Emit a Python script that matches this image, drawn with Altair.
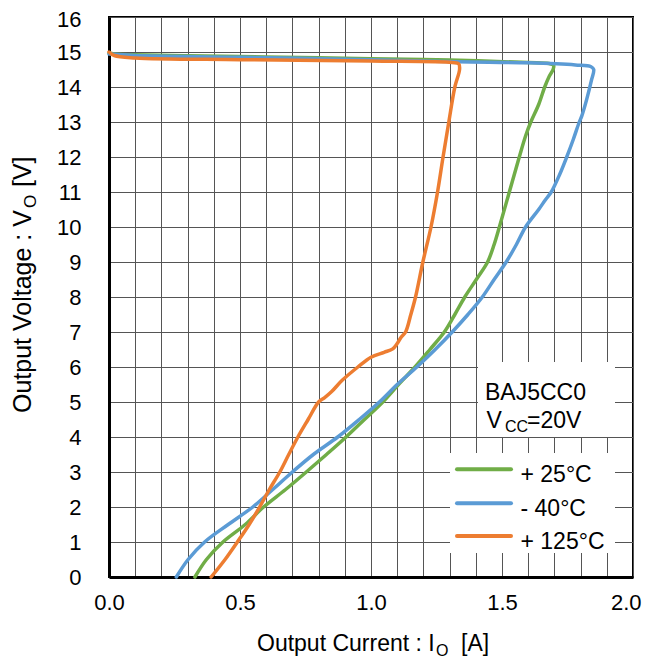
import altair as alt
import pandas as pd

# ---------------- data ----------------
series_names = ["+ 25°C", "- 40°C", "+ 125°C"]
series_colors = ["#70AD47", "#5B9BD5", "#ED7D31"]

green_I = [0.328, 0.372, 0.435, 0.520, 0.590, 0.674, 0.753, 0.830, 0.905, 0.975, 1.045,
           1.105, 1.168, 1.225, 1.280, 1.320, 1.358, 1.402, 1.445, 1.470, 1.490, 1.528,
           1.566, 1.590, 1.610, 1.640, 1.663, 1.680, 1.695, 1.697, 1.680, 1.600, 1.300,
           1.000, 0.600, 0.300, 0.100, 0.020, 0.000]
green_V = [0.0, 0.5, 1.0, 1.5, 2.0, 2.5, 3.0, 3.5, 4.0, 4.5, 5.0,
           5.5, 6.0, 6.5, 7.0, 7.5, 8.0, 8.5, 9.0, 9.5, 10.0, 11.0,
           12.0, 12.6, 13.0, 13.5, 14.0, 14.3, 14.5, 14.62, 14.67, 14.70, 14.77,
           14.81, 14.86, 14.89, 14.92, 14.94, 14.97]

blue_I = [0.257, 0.302, 0.365, 0.455, 0.549, 0.625, 0.700, 0.780, 0.873, 0.955, 1.032,
          1.100, 1.175, 1.245, 1.310, 1.370, 1.425, 1.470, 1.516, 1.555, 1.590, 1.640,
          1.666, 1.688, 1.720, 1.747, 1.772, 1.795, 1.804, 1.823, 1.842, 1.850, 1.840,
          1.780, 1.600, 1.330, 1.000, 0.500, 0.100, 0.000]
blue_V = [0.0, 0.5, 1.0, 1.5, 2.0, 2.5, 3.0, 3.5, 4.0, 4.5, 5.0,
          5.5, 6.0, 6.5, 7.0, 7.5, 8.0, 8.5, 9.0, 9.5, 10.0, 10.5,
          10.78, 11.0, 11.5, 12.0, 12.5, 13.0, 13.16, 13.64, 14.21, 14.5, 14.58,
          14.63, 14.69, 14.72, 14.78, 14.85, 14.90, 14.94]

orange_I = [0.390, 0.443, 0.490, 0.535, 0.575, 0.612, 0.652, 0.686, 0.721, 0.760, 0.800,
            0.822, 0.850, 0.890, 0.950, 1.000, 1.050, 1.083, 1.100, 1.115, 1.132, 1.152,
            1.170, 1.198, 1.229, 1.254, 1.275, 1.297, 1.320, 1.338, 1.335, 1.310, 1.000,
            0.500, 0.100, 0.020, 0.000]
orange_V = [0.0, 0.5, 1.0, 1.5, 2.0, 2.5, 3.0, 3.5, 4.0, 4.5, 5.0,
            5.12, 5.30, 5.62, 6.0, 6.28, 6.42, 6.52, 6.67, 6.85, 7.0, 7.5,
            8.0, 9.0, 10.0, 11.0, 12.0, 13.0, 14.0, 14.5, 14.66, 14.70, 14.74,
            14.78, 14.83, 14.90, 15.0]

x_ticks = [round(i * 0.1, 1) for i in range(21)]
y_ticks = list(range(17))

device_lines = ["BAJ5CC0"]
vcc_parts = ["V", "CC", "=20V"]
x_title_parts = ["Output Current : I", "O", "[A]"]
y_title_parts = ["Output Voltage : V", "O", "[V]"]

FONT = "Liberation Sans"

# ---------------- scales / axes ----------------
x_scale = alt.Scale(domain=[0, 2], nice=False, zero=False)
y_scale = alt.Scale(domain=[0, 16], nice=False, zero=False)

x_axis = alt.Axis(
    values=x_ticks, title=None, grid=True, ticks=False, tickSize=0,
    labelExpr="(round(datum.value*10) % 5 == 0) ? format(datum.value, '.1f') : ''",
    labelOverlap=False, labelPadding=15, labelFontSize=22, labelFont=FONT,
    labelColor="black", labelFlush=False,
    labelAlign={"condition": {"test": "datum.value >= 1.99", "value": "right"}, "value": "center"},
    labelOffset={"condition": {"test": "datum.value >= 1.99", "value": 8}, "value": 0},
    domainColor="black", domainWidth=3, gridColor="#555555", gridWidth=1, gridOpacity=1,
)
y_axis = alt.Axis(
    values=y_ticks, title=None, grid=True, ticks=False, tickSize=0, format="d",
    labelOverlap=False, labelPadding=28, labelFontSize=22, labelFont=FONT,
    labelColor="black", labelFlush=False,
    labelOffset={"condition": {"test": "datum.value >= 16", "value": 2}, "value": 0},
    domainColor="black", domainWidth=3, gridColor="#555555", gridWidth=1, gridOpacity=1,
)


def curve(name, I, V, color):
    df = pd.DataFrame({"series": name, "I": I, "V": V, "k": list(range(len(I)))})
    return alt.Chart(df).mark_line(
        color=color, strokeWidth=3.5, interpolate="catmull-rom",
        strokeCap="round", strokeJoin="round",
    ).encode(
        x=alt.X("I:Q", scale=x_scale, axis=x_axis),
        y=alt.Y("V:Q", scale=y_scale, axis=y_axis),
        order="k:Q",
    )


one = pd.DataFrame({"a": [0]})


def box(x1, x2, y1, y2):
    return alt.Chart(one).mark_rect(color="white").encode(
        x=alt.value(x1), x2=alt.value(x2), y=alt.value(y1), y2=alt.value(y2))


def txt(s, x, y, size, angle=0):
    return alt.Chart(pd.DataFrame({"t": [s]})).mark_text(
        align="left", baseline="alphabetic", font=FONT, fontSize=size,
        color="black", angle=angle,
    ).encode(x=alt.value(x), y=alt.value(y), text="t:N")


layers = [
    curve(series_names[0], green_I, green_V, series_colors[0]),
    curve(series_names[1], blue_I, blue_V, series_colors[1]),
    curve(series_names[2], orange_I, orange_V, series_colors[2]),
    box(369, 506, 345, 420),
    box(341, 506, 436, 536),
]

# legend
leg_y = [452.3, 486.3, 519.0]
for name, color, ly in zip(series_names, series_colors, leg_y):
    layers.append(
        alt.Chart(one).mark_rule(color=color, strokeWidth=4, strokeCap="round").encode(
            x=alt.value(348), x2=alt.value(402), y=alt.value(ly))
    )
    layers.append(txt(name, 411.5, ly + 12.7, 23))

# annotation
layers.append(txt(device_lines[0], 376, 383, 23))
layers.append(txt(vcc_parts[0], 377.5, 411.3, 23))
layers.append(txt(vcc_parts[1], 396, 414.7, 16))
layers.append(txt(vcc_parts[2], 418, 411.3, 23))

# axis titles with subscripts
layers.append(txt(x_title_parts[0], 148, 634, 23))
layers.append(txt(x_title_parts[1], 327, 638.5, 16))
layers.append(txt(x_title_parts[2], 352, 634, 23))

layers.append(txt(y_title_parts[0], -78.5, 396, 25, 270))
layers.append(txt(y_title_parts[1], -73.5, 191, 17, 270))
layers.append(txt(y_title_parts[2], -78.5, 170, 25, 270))

chart = alt.layer(*layers).properties(
    width=524, height=560,
    autosize=alt.AutoSizeParams(type="none"),
    padding={"left": 101, "top": 9, "right": 9, "bottom": 80},
    background="white",
).configure_view(stroke="black", strokeWidth=2)

chart.save("out.html", embed_options={"renderer": "svg", "actions": False})
